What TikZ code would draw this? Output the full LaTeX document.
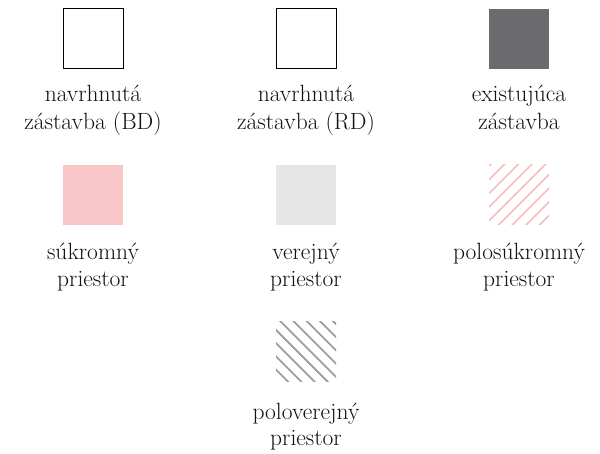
\documentclass[tikz,border=0pt]{standalone}
\definecolor{pinkfill}{HTML}{F8C6C6}
\definecolor{lightgray}{HTML}{E6E6E6}
\definecolor{darkfill}{HTML}{6A6A6F}
\definecolor{pinkhatch}{HTML}{F7BDBD}
\definecolor{grayhatch}{HTML}{9E9E9E}
\definecolor{txt}{HTML}{111111}
\begin{document}
\begin{tikzpicture}[x=1pt,y=-1pt,
  lbl/.style={anchor=base,inner sep=0pt,text=txt,font=\fontsize{23.5}{28}\selectfont},
  outlinebox/.style={draw=black,line width=1pt}]
\useasboundingbox (0,0) rectangle (600,454);
% row 1
\draw[outlinebox] (63,9) rectangle (123,69);
\node[lbl] (a1) at (93,102) {navrhnutá};
\node[lbl] (a2) at (93,130) {zástavba (BD)};
\draw[outlinebox] (276,9) rectangle (336,69);
\node[lbl] (b1) at (306,102) {navrhnutá};
\node[lbl] (b2) at (306,130) {zástavba (RD)};
\fill[darkfill] (489,9) rectangle (549,69);
\node[lbl] (c1) at (519,102) {existujúca};
\node[lbl] (c2) at (519,130) {zástavba};
% row 2
\fill[pinkfill] (63,165) rectangle (123,225);
\node[lbl] (d1) at (93,260) {súkromný};
\node[lbl] (d2) at (93,287) {priestor};
\fill[lightgray] (276,165) rectangle (336,225);
\node[lbl] (e1) at (306,260) {verejný};
\node[lbl] (e2) at (306,287) {priestor};
\begin{scope}
\clip (489,165) rectangle (549,225);
\foreach \k in {-6,...,10} {
  \pgfmathsetmacro{\c}{655+13.7*\k}
  \draw[pinkhatch,line width=1.6pt] (489,\c-489) -- (560,\c-560);
}
\end{scope}
\node[lbl] (f1) at (519,260) {polosúkromný};
\node[lbl] (f2) at (519,287) {priestor};
% row 3
\begin{scope}
\clip (276,322) rectangle (336,382);
\foreach \k in {-6,...,10} {
  \pgfmathsetmacro{\c}{54+13.2*\k}
  \draw[grayhatch,line width=1.8pt] (266,266+\c) -- (346,346+\c);
}
\end{scope}
\node[lbl] (g1) at (306,420) {poloverejný};
\node[lbl] (g2) at (306,445) {priestor};
\end{tikzpicture}
\end{document}
